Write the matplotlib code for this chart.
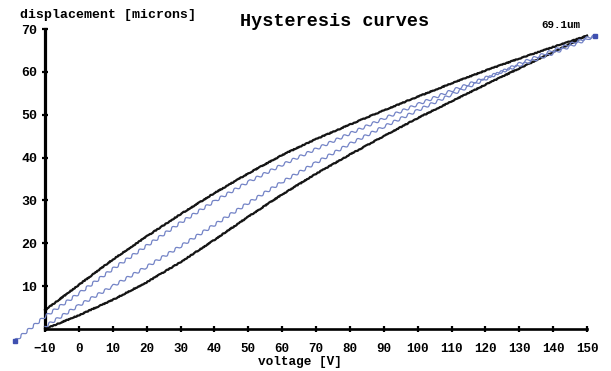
import matplotlib
matplotlib.use("Agg")
import matplotlib.pyplot as plt

MONO = ["Liberation Mono", "DejaVu Sans Mono"]

# outer (measured) loop, black
volt = [-10, 0, 10, 20, 30, 40, 50, 60, 70, 80, 90, 100, 110, 120, 130, 140, 150]
disp_upper = [4.4, 10.3, 16.2, 21.6, 26.8, 31.7, 36.3, 40.6, 44.3, 47.7, 51.0,
              54.2, 57.3, 60.3, 63.1, 65.8, 68.4]
disp_lower = [0.0, 3.2, 6.8, 10.9, 15.6, 20.8, 26.2, 31.4, 36.2, 40.7, 45.0,
              49.2, 53.1, 57.0, 60.8, 64.6, 68.4]

# inner (stepped) loop, blue
blue_down_v = [152.4, 150, 140, 130, 120, 110, 100, 90, 80, 70, 60, 50, 40, 30,
               20, 10, 0, -10, -18.9]
blue_down_d = [68.4, 67.6, 64.3, 61.5, 58.6, 55.6, 52.4, 49.1, 45.6, 42.0, 38.3,
               34.3, 29.8, 24.8, 19.4, 14.0, 8.3, 2.9, -2.8]
blue_up_v = [-10, 0, 10, 20, 30, 40, 50, 60, 70, 80, 90, 100, 110, 120, 130,
             140, 150, 152.4]
blue_up_d = [0.6, 5.5, 10.0, 14.5, 19.3, 24.3, 29.4, 34.3, 38.8, 43.2, 47.2,
             51.0, 54.7, 58.3, 61.9, 65.0, 67.9, 68.4]

x_ticks = list(range(-10, 151, 10))
y_ticks = list(range(10, 71, 10))

fig = plt.figure(figsize=(6.11, 3.71), dpi=100)
ax = fig.add_axes([45 / 611, 1 - 329 / 371, 542 / 611, 300 / 371])

blue = "#7383c6"
for v, d in [(blue_down_v, blue_down_d), (blue_up_v, blue_up_d)]:
    ln, = ax.plot(v, d, color=blue, lw=0.9, clip_on=False, zorder=3)
    ln.set_sketch_params(scale=1.3, length=8, randomness=1)
ax.plot([blue_down_v[0], blue_down_v[-1]], [blue_down_d[0], blue_down_d[-1]],
        ls="none", marker="s", ms=2.5, color="#3f50b0", clip_on=False, zorder=4)

for d in (disp_upper, disp_lower):
    ln, = ax.plot(volt, d, color="#151515", lw=1.6, clip_on=False, zorder=2)
    ln.set_sketch_params(scale=0.4, length=3, randomness=3)

ax.set_xlim(-10, 150)
ax.set_ylim(0, 70)
ax.set_xticks(x_ticks)
ax.set_yticks(y_ticks)
ax.spines["top"].set_visible(False)
ax.spines["right"].set_visible(False)
ax.spines["left"].set_linewidth(2.3)
ax.spines["bottom"].set_linewidth(1.9)
ax.tick_params(axis="x", direction="inout", length=5, width=1.6, pad=7.5,
               labelsize=9)
ax.tick_params(axis="y", direction="inout", length=5, width=1.6, pad=3,
               labelsize=9.5)
for lab in ax.get_xticklabels() + ax.get_yticklabels():
    lab.set_family(MONO)
    lab.set_fontweight("bold")

fig.text(20 / 611, 1 - 15 / 371, "displacement [microns]", family=MONO,
         fontweight="bold", fontsize=9.5, ha="left", va="center")
fig.text(240 / 611, 1 - 21 / 371, "Hysteresis curves", family=MONO,
         fontweight="bold", fontsize=13.3, ha="left", va="center")
fig.text(541 / 611, 1 - 25 / 371, "69.1um", family=MONO,
         fontweight="bold", fontsize=7.8, ha="left", va="center")
fig.text(258 / 611, 1 - 362 / 371, "voltage [V]", family=MONO,
         fontweight="bold", fontsize=9.2, ha="left", va="center")

fig.savefig("out.png", dpi=100)
